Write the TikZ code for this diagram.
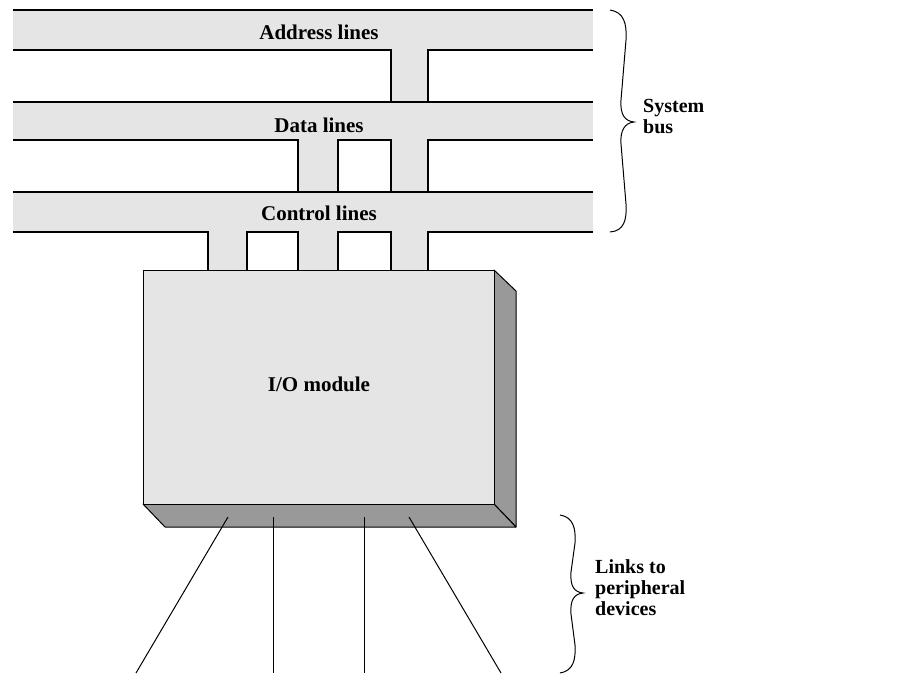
\documentclass[tikz,border=0pt]{standalone}
\usepackage{fontspec}
\setmainfont{Liberation Serif}
\definecolor{bandgray}{RGB}{229,229,229}
\definecolor{sidegray}{RGB}{153,153,153}
\begin{document}
\begin{tikzpicture}[x=1pt,y=-1pt,
  busline/.style={line width=1.6pt,line join=miter},
  boxline/.style={line width=1pt,line join=round},
  linkline/.style={line width=1pt},
  bracepath/.style={line width=1pt},
  lbl/.style={inner sep=0pt,font=\fontsize{21}{22}\selectfont\bfseries},
  sidelbl/.style={inner sep=0pt,align=left,anchor=west,font=\fontsize{20}{21}\selectfont\bfseries}]
\useasboundingbox (0,0) rectangle (903,675);
% fills
\fill[bandgray] (13,10) rectangle (593,50);
\fill[bandgray] (13,102) rectangle (593,140);
\fill[bandgray] (13,192) rectangle (593,232);
\fill[bandgray] (391,50) rectangle (428,270);
\fill[bandgray] (298,140) rectangle (338,270);
\fill[bandgray] (208,232) rectangle (247,270);
% address band
\draw[busline] (13,10) -- (593,10);
\draw[busline] (13,50) -- (391,50) -- (391,102);
\draw[busline] (428,102) -- (428,50) -- (593,50);
% data band
\draw[busline] (13,102) -- (593,102);
\draw[busline] (13,140) -- (298,140) -- (298,192);
\draw[busline] (338,192) -- (338,140) -- (391,140) -- (391,192);
\draw[busline] (428,192) -- (428,140) -- (593,140);
% control band
\draw[busline] (13,192) -- (593,192);
\draw[busline] (13,232) -- (208,232) -- (208,270);
\draw[busline] (247,270) -- (247,232) -- (298,232) -- (298,270);
\draw[busline] (338,270) -- (338,232) -- (391,232) -- (391,270);
\draw[busline] (428,270) -- (428,232) -- (593,232);
% labels
\node[lbl] (addr) at (319,32) {Address lines};
\node[lbl] (data) at (319,125) {Data lines};
\node[lbl] (ctrl) at (319,213) {Control lines};
% module
\draw[boxline,fill=sidegray] (494,270) -- (516,291) -- (516,527) -- (494,504) -- cycle;
\draw[boxline,fill=sidegray] (143,504) -- (165,527) -- (516,527) -- (494,504) -- cycle;
\draw[boxline,fill=bandgray] (143,270) rectangle (494,504);
\node[lbl] (io) at (319,384) {I/O module};
% links
\coordinate (l1t) at (228,517); \coordinate (l1b) at (136,673);
\coordinate (l2t) at (273,517); \coordinate (l2b) at (273,673);
\coordinate (l3t) at (364,517); \coordinate (l3b) at (364,673);
\coordinate (l4t) at (409,517); \coordinate (l4b) at (501,673);
\draw[linkline] (l1t) -- (l1b);
\draw[linkline] (l2t) -- (l2b);
\draw[linkline] (l3t) -- (l3b);
\draw[linkline] (l4t) -- (l4b);
% system bus brace
\draw[bracepath] (610,10) .. controls (624,12) and (627,24) .. (626,40)
  -- (621,100) .. controls (620,115) and (625,121) .. (634,122)
  .. controls (625,123) and (620,130) .. (621,144)
  -- (626,204) .. controls (627,220) and (624,231) .. (610,232);
\node[sidelbl] (sysbus) at (643,116) {System\\bus};
% links brace
\draw[bracepath] (560,515) .. controls (573,517) and (576,528) .. (575,543)
  -- (571,572) .. controls (570,586) and (574,592) .. (583,593)
  .. controls (574,594) and (570,600) .. (571,614)
  -- (575,645) .. controls (576,660) and (573,671) .. (560,673);
\node[sidelbl] (links) at (595,588) {Links to\\peripheral\\devices};
\end{tikzpicture}
\end{document}
